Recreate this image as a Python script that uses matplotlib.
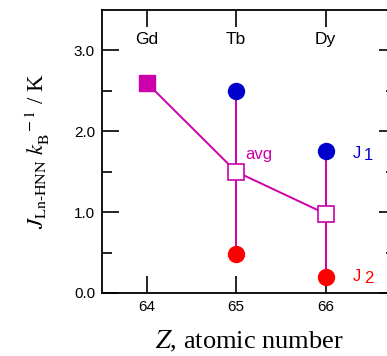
import matplotlib.pyplot as plt

# data
elements = ["Gd", "Tb", "Dy"]
z_values = [64, 65, 66]
j_avg = [2.6, 1.5, 0.98]
j1_z = [65, 66]
j1 = [2.5, 1.75]
j2_z = [65, 66]
j2 = [0.48, 0.2]

MAGENTA = "#cc00aa"
BLUE = "#0000cc"
RED = "#ff0000"

plt.rcParams["font.family"] = ["Liberation Sans", "DejaVu Sans"]
plt.rcParams["mathtext.fontset"] = "stix"


def main():
    fig = plt.figure(figsize=(3.87, 3.56), dpi=100)
    # right spine sits just outside the picture, as in the reference
    ax = fig.add_axes([0.2636, 0.177, 0.76, 0.795])

    # vertical bars J1 - J2
    for z, a, b in zip(j1_z, j1, j2):
        ax.plot([z, z], [b, a], color=MAGENTA, lw=1.4, zorder=1)

    # average line
    ax.plot(z_values, j_avg, color=MAGENTA, lw=1.4, zorder=2)
    ax.plot(z_values[:1], j_avg[:1], "s", ms=12, color=MAGENTA, zorder=3)
    ax.plot(z_values[1:], j_avg[1:], "s", ms=11, mfc="white", mec=MAGENTA,
            mew=1.2, zorder=3)

    ax.plot(j1_z, j1, "o", ms=11.5, color=BLUE, zorder=3)
    ax.plot(j2_z, j2, "o", ms=11.5, color=RED, zorder=3)

    ax.text(65.1, 1.71, "avg", color=MAGENTA, fontsize=12, va="center")
    ax.text(66.3, 1.73, "J", color=BLUE, fontsize=12, va="center")
    ax.text(66.43, 1.70, "1", color=BLUE, fontsize=12, va="center")
    ax.text(66.3, 0.21, "J", color=RED, fontsize=12, va="center")
    ax.text(66.43, 0.18, "2", color=RED, fontsize=12, va="center")

    for z, el in zip(z_values, elements):
        ax.text(z, 3.14, el, ha="center", va="center", fontsize=12.5)

    ax.set_xlim(63.5, 66.79)
    ax.set_ylim(0, 3.5)
    ax.set_xticks(z_values)
    ax.set_yticks([0, 1, 2, 3])
    ax.set_yticklabels(["0.0", "1.0", "2.0", "3.0"])
    ax.set_yticks([0.5, 1.5, 2.5], minor=True)
    ax.tick_params(which="both", direction="in", top=True, right=True,
                   width=1.2, labelsize=11, pad=5)
    ax.tick_params(which="major", length=12)
    ax.tick_params(which="minor", length=7)
    for s in ax.spines.values():
        s.set_linewidth(1.3)

    ax.set_xlabel("$Z$, atomic number", fontsize=19,
                  family="Liberation Serif", labelpad=11)
    ax.set_ylabel(r"$J_{\mathrm{Ln\text{-}HNN}}\ k_{\mathrm{B}}^{\ \ -1}$ / K",
                  fontsize=16.5, family="Liberation Serif", labelpad=16)

    fig.savefig("out.png", dpi=100)


if __name__ == "__main__":
    main()
